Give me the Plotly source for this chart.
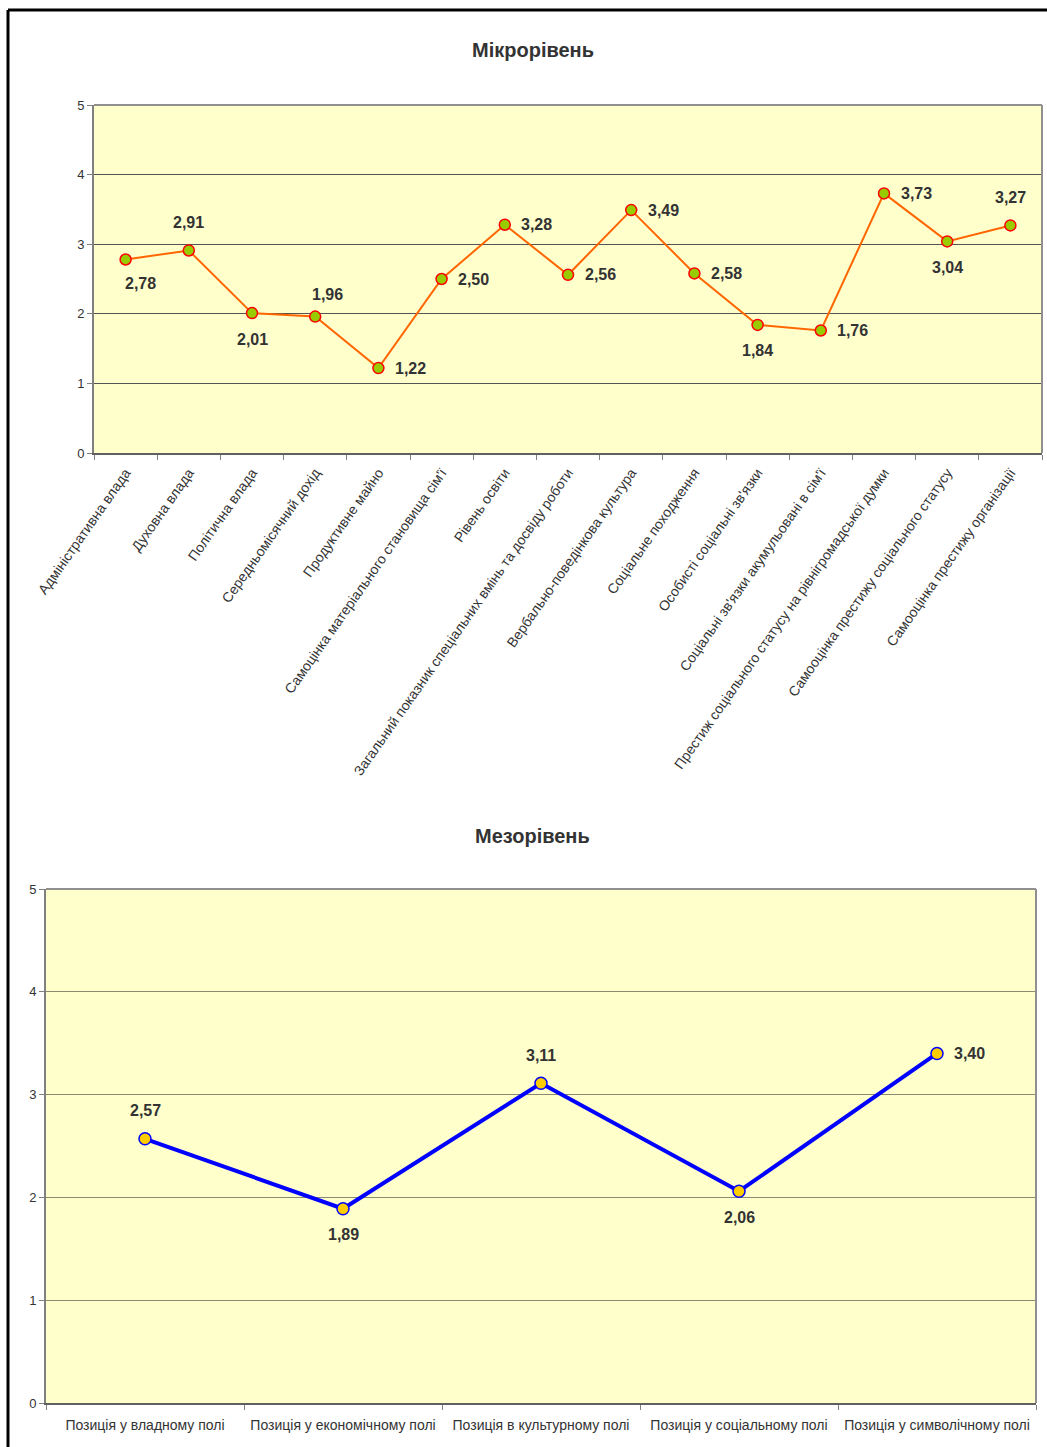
import plotly.graph_objects as go

# --- Micro level indicators ---
micro_labels = [
    "Адміністративна влада",
    "Духовна влада",
    "Політична влада",
    "Середньомісячний дохід",
    "Продуктивне майно",
    "Самоцінка матеріального становища сім'ї",
    "Рівень освіти",
    "Загальний показник спеціальних вмінь та досвіду роботи",
    "Вербально-поведінкова культура",
    "Соціальне походження",
    "Особисті соціальні зв'язки",
    "Соціальні зв'язки акумульовані в сім'ї",
    "Престиж соціального статусу на рівнігромадської думки",
    "Самооцінка престижу соціального статусу",
    "Самооцінка престижу організації",
]
micro_values = [2.78, 2.91, 2.01, 1.96, 1.22, 2.50, 3.28, 2.56, 3.49, 2.58, 1.84, 1.76, 3.73, 3.04, 3.27]
micro_label_pos = ["bottom right", "top", "bottom", "top right", "right", "right", "right", "right",
                   "right", "right", "bottom", "right", "right", "bottom", "top"]

# --- Meso level positions ---
meso_labels = [
    "Позиція у владному полі",
    "Позиція у економічному полі",
    "Позиція в культурному полі",
    "Позиція у соціальному полі",
    "Позиція у символічному полі",
]
meso_values = [2.57, 1.89, 3.11, 2.06, 3.40]
meso_label_pos = ["top", "bottom", "top", "bottom", "right"]

W, H = 1047, 1447
FONT = "Liberation Sans, Arial, sans-serif"
TXT = "#333333"


def fmt(v):
    return f"{v:.2f}".replace(".", ",")


def px_x(p):
    return p / W


def px_y(p):
    return 1 - p / H


fig = go.Figure()

fig.add_trace(go.Scatter(
    x=micro_labels, y=micro_values, mode="lines+markers",
    line=dict(color="#FF6600", width=2),
    marker=dict(size=11, color="#99CC00", line=dict(color="#FF0000", width=1.5)),
    xaxis="x", yaxis="y", hoverinfo="skip", showlegend=False,
))

fig.add_trace(go.Scatter(
    x=meso_labels, y=meso_values, mode="lines+markers",
    line=dict(color="#0000FF", width=4),
    marker=dict(size=12, color="#FFCC00", line=dict(color="#0000FF", width=1.5)),
    xaxis="x2", yaxis="y2", hoverinfo="skip", showlegend=False,
))

shifts = {
    "top": (0, 28),
    "bottom": (0, -26),
    "right": (32, 0),
    "top right": (12, 22),
    "bottom right": (15, -24),
}

annotations = []
for lab, v, pos in zip(micro_labels, micro_values, micro_label_pos):
    dx, dy = shifts[pos]
    annotations.append(dict(x=lab, y=v, xref="x", yref="y", text=fmt(v), showarrow=False,
                            xshift=dx, yshift=dy,
                            font=dict(family=FONT, size=16, color=TXT, weight="bold")))
for lab, v, pos in zip(meso_labels, meso_values, meso_label_pos):
    dx, dy = shifts[pos]
    annotations.append(dict(x=lab, y=v, xref="x2", yref="y2", text=fmt(v), showarrow=False,
                            xshift=dx, yshift=dy,
                            font=dict(family=FONT, size=16, color=TXT, weight="bold")))

annotations.append(dict(text="Мікрорівень", x=0.509, y=px_y(50), xref="paper", yref="paper",
                        yanchor="middle", showarrow=False,
                        font=dict(family=FONT, size=20, color=TXT, weight="bold")))
annotations.append(dict(text="Мезорівень", x=0.509, y=px_y(836), xref="paper", yref="paper",
                        yanchor="middle", showarrow=False,
                        font=dict(family=FONT, size=20, color=TXT, weight="bold")))

axis_common = dict(showgrid=False, zeroline=False, automargin=False)

fig.update_layout(
    width=W, height=H,
    margin=dict(l=0, r=0, t=0, b=0),
    paper_bgcolor="white",
    plot_bgcolor="#FFFFCC",
    font=dict(family=FONT, color=TXT),
    xaxis=dict(
        domain=[px_x(94), px_x(1042)], anchor="y", type="category",
        range=[-0.5, len(micro_labels) - 0.5],
        tickangle=-55, tickfont=dict(size=14, color=TXT), ticklabelstandoff=4,
        ticks="outside", ticklen=5, tickcolor="#808080", tickson="boundaries",
        showline=True, linecolor="#606060", linewidth=2, mirror=False,
        **axis_common,
    ),
    yaxis=dict(
        domain=[px_y(453), px_y(105)], anchor="x", range=[0, 5],
        tickvals=[0, 1, 2, 3, 4, 5], tickfont=dict(size=13, color=TXT),
        ticks="outside", ticklen=5, tickcolor="#808080",
        showline=True, linecolor="#808080", linewidth=2,
        showgrid=True, gridcolor="#555555", gridwidth=1,
        zeroline=False, automargin=False,
    ),
    xaxis2=dict(
        domain=[px_x(46), px_x(1036)], anchor="y2", type="category",
        range=[-0.5, len(meso_labels) - 0.5],
        tickangle=0, tickfont=dict(size=14, color=TXT), ticklabelstandoff=8,
        ticks="outside", ticklen=5, tickcolor="#808080", tickson="boundaries",
        showline=True, linecolor="#606060", linewidth=2,
        **axis_common,
    ),
    yaxis2=dict(
        domain=[px_y(1403), px_y(889)], anchor="x2", range=[0, 5],
        tickvals=[0, 1, 2, 3, 4, 5], tickfont=dict(size=13, color=TXT),
        ticks="outside", ticklen=5, tickcolor="#808080",
        showline=True, linecolor="#808080", linewidth=2,
        showgrid=True, gridcolor="#8A8A70", gridwidth=1,
        zeroline=False, automargin=False,
    ),
    annotations=annotations,
    shapes=[
        # frame of the plot areas (top and right edges)
        dict(type="line", xref="x domain", yref="y domain", x0=0, x1=1, y0=1, y1=1,
             line=dict(color="#909090", width=2)),
        dict(type="line", xref="x domain", yref="y domain", x0=1, x1=1, y0=0, y1=1,
             line=dict(color="#909090", width=2)),
        dict(type="line", xref="x2 domain", yref="y2 domain", x0=0, x1=1, y0=1, y1=1,
             line=dict(color="#909090", width=2)),
        dict(type="line", xref="x2 domain", yref="y2 domain", x0=1, x1=1, y0=0, y1=1,
             line=dict(color="#909090", width=2)),
        # outer page border
        dict(type="line", xref="paper", yref="paper", x0=px_x(8), x1=1, y0=px_y(10), y1=px_y(10),
             line=dict(color="black", width=3)),
        dict(type="line", xref="paper", yref="paper", x0=px_x(8), x1=px_x(8), y0=0, y1=px_y(10),
             line=dict(color="black", width=3)),
    ],
)

fig.write_html("out.html")
